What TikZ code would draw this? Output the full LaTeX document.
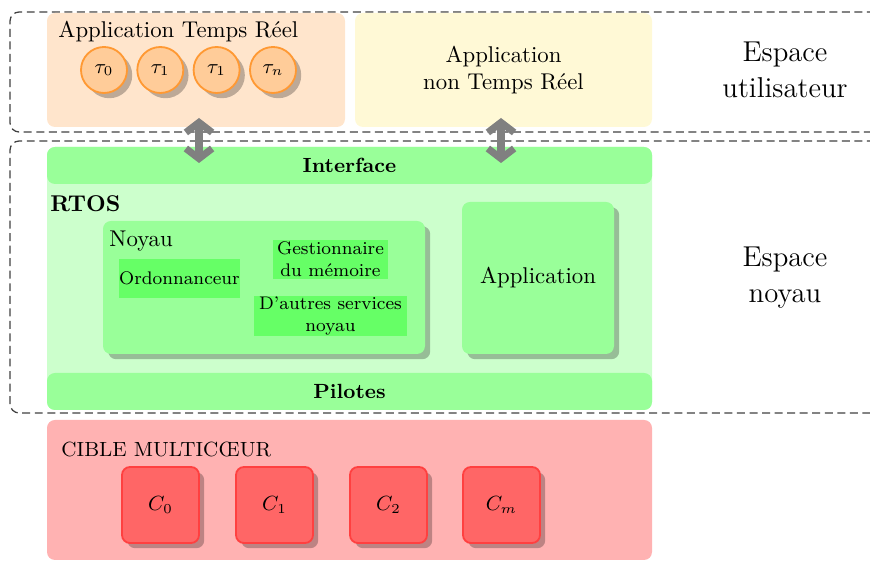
\documentclass[tikz,border=0pt]{standalone}
\usetikzlibrary{arrows.meta,shadows}
\def\pxu{0.4386pt}
\definecolor{orangebg}{RGB}{255,229,204}
\definecolor{taufill}{RGB}{255,204,153}
\definecolor{tauline}{RGB}{255,153,51}
\definecolor{yellowbg}{RGB}{255,249,214}
\definecolor{greenA}{RGB}{204,255,204}
\definecolor{greenB}{RGB}{153,255,153}
\definecolor{greenC}{RGB}{102,255,102}
\definecolor{redbg}{RGB}{255,178,178}
\definecolor{corefill}{RGB}{255,102,102}
\definecolor{coreline}{RGB}{255,64,64}
\definecolor{arrowgray}{RGB}{128,128,128}
\tikzset{
  box/.style={rectangle, inner sep=0pt, rounded corners=3.5pt},
  shad/.style={drop shadow={shadow xshift=2.3pt, shadow yshift=-2.3pt, fill=black, opacity=0.26}},
  region/.style={draw=black!75, line width=0.55pt, dash pattern=on 3.5pt off 2pt, rounded corners=4pt},
  tau/.style={circle, inner sep=0pt, minimum size=46*\pxu, fill=taufill, draw=tauline, line width=0.8pt, shad, font=\small},
  core/.style={box, minimum width=77*\pxu, minimum height=76*\pxu, fill=corefill, draw=coreline, line width=0.8pt, shad, font=\small},
  service/.style={rectangle, inner sep=0pt, fill=greenC, font=\footnotesize, align=center},
  bar/.style={box, minimum width=605*\pxu, minimum height=37*\pxu, fill=greenB, font=\small\bfseries},
  big/.style={font=\fontsize{12.6}{15.8}\selectfont, align=center},
  dblarrow/.style={draw=arrowgray, line width=3.1pt, {Straight Barb[length=4.4pt,width=11.5pt]}-{Straight Barb[length=4.4pt,width=11.5pt]}},
}
\begin{document}
\begin{tikzpicture}[x=\pxu,y=-\pxu]
\clip (0,0) rectangle (870,561);
% dashed regions
\draw[region] (900,12) -- (10,12) -- (10,132) -- (900,132);
\draw[region] (900,141) -- (10,141) -- (10,413) -- (900,413);
% user space
\node[box, minimum width=298*\pxu, minimum height=114*\pxu, fill=orangebg] (rt) at (196,70) {};
\node[anchor=west, inner sep=0pt] (rtlabel) at (58,32) {Application Temps Réel};
\node[tau] (t0) at (104,70) {$\tau_0$};
\node[tau] (t1) at (160.3,70) {$\tau_1$};
\node[tau] (t2) at (216.6,70) {$\tau_1$};
\node[tau] (tn) at (273,70) {$\tau_n$};
\node[box, minimum width=297*\pxu, minimum height=114*\pxu, fill=yellowbg, align=center] (nrt) at (503.5,70) {Application\\non Temps Réel};
\node[big] (eu) at (785,70) {Espace\\utilisateur};
% RTOS
\node[box, minimum width=605*\pxu, minimum height=263*\pxu, fill=greenA] (rtos) at (349.5,278.5) {};
\node[bar] (iface) at (349.5,165.5) {Interface};
\node[bar] (pil) at (349.5,391.5) {Pilotes};
\node[anchor=west, inner sep=0pt, font=\bfseries] (rtoslabel) at (50,204) {RTOS};
\node[box, minimum width=322*\pxu, minimum height=133*\pxu, fill=greenB, shad] (noyau) at (264,287.5) {};
\node[anchor=west, inner sep=0pt] (noyaulabel) at (109,241) {Noyau};
\node[service, minimum width=114*\pxu, minimum height=39*\pxu] (ord) at (179.5,278.5) {Ordonnanceur};
\node[service, minimum width=115*\pxu, minimum height=39*\pxu] (gest) at (330.5,259.5) {Gestionnaire\\du mémoire};
\node[service, minimum width=153*\pxu, minimum height=40*\pxu] (autres) at (330.5,316) {D’autres services\\noyau};
\node[box, minimum width=152*\pxu, minimum height=152*\pxu, fill=greenB, shad] (app) at (538,278) {Application};
\node[big] (en) at (785,278) {Espace\\noyau};
% arrows
\coordinate (a1t) at (199,118);
\coordinate (a1b) at (199,163);
\coordinate (a2t) at (501,118);
\coordinate (a2b) at (501,163);
\draw[dblarrow] (a1t) -- (a1b);
\draw[dblarrow] (a2t) -- (a2b);
% target
\node[box, minimum width=605*\pxu, minimum height=140*\pxu, fill=redbg] (cible) at (349.5,490) {};
\node[anchor=west, inner sep=0pt, font=\small] (ciblelabel) at (61,450) {CIBLE MULTICŒUR};
\node[core] (c0) at (160.5,505) {$C_0$};
\node[core] (c1) at (274.5,505) {$C_1$};
\node[core] (c2) at (388.5,505) {$C_2$};
\node[core] (cm) at (501.5,505) {$C_m$};
\end{tikzpicture}
\end{document}
